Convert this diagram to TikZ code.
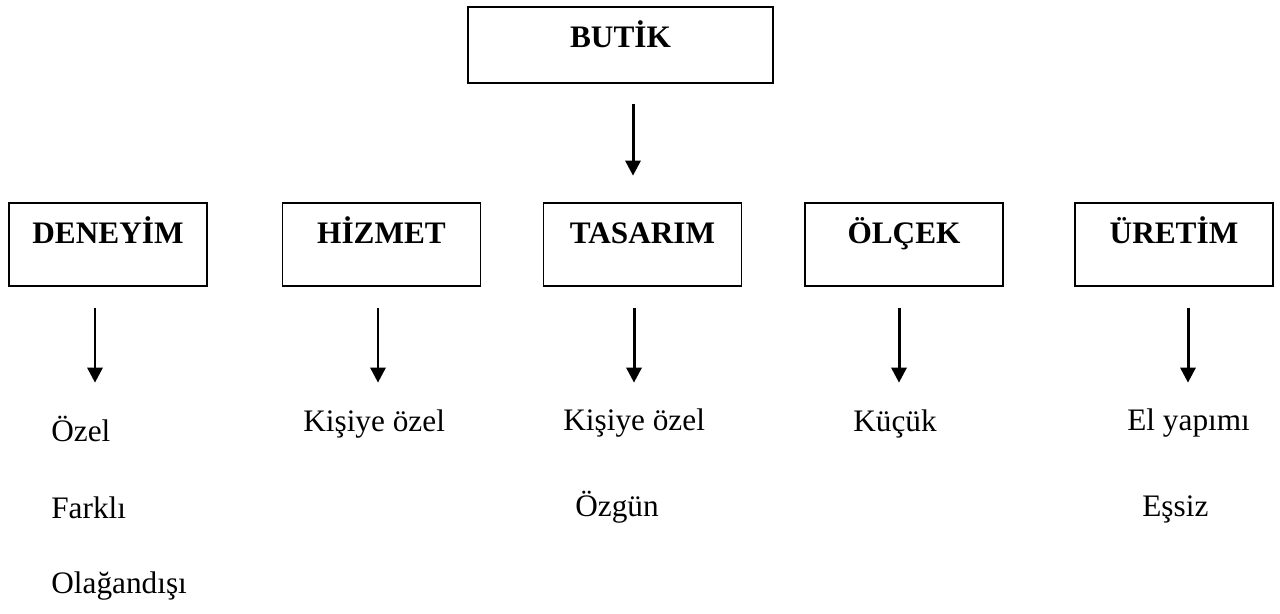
\documentclass[tikz,border=0pt]{standalone}
\usepackage{fontspec}
\setmainfont{Liberation Serif}
\usetikzlibrary{arrows.meta}

\begin{document}
\fontsize{17.8}{21}\selectfont
\begin{tikzpicture}[
        kutu/.style={draw, line width=0.75pt, font=\bfseries, minimum width=3.96cm,
            inner xsep=0pt, inner ysep=0pt, text height=0.8cm, text depth=0.86cm},
        ok/.style={line width=1.7pt, -{Triangle[length=0.3cm,width=0.3cm]}},
        yazi/.style={anchor=base west, inner sep=0pt}
    ]
        \useasboundingbox (0,0) rectangle (25.6,-12.26);
        % ust kutu
        \node[kutu, minimum width=6.1cm, text depth=0.72cm] (butik) at (12.41,-0.9) {BUTİK};
        \draw[ok] ([xshift=0.25cm,yshift=-0.4cm]butik.south) -- ++(0,-1.44);
        % alt kutular
        \node[kutu] (deneyim) at (2.16,-4.89) {DENEYİM};
        \node[kutu] (hizmet) at (7.63,-4.89) {HİZMET};
        \node[kutu] (tasarim) at (12.85,-4.89) {TASARIM};
        \node[kutu] (olcek) at (18.08,-4.89) {ÖLÇEK};
        \node[kutu] (uretim) at (23.48,-4.89) {ÜRETİM};
        \draw[ok] ([xshift=-0.26cm,yshift=-0.42cm]deneyim.south) -- ++(0,-1.5);
        \draw[ok] ([xshift=-0.07cm,yshift=-0.42cm]hizmet.south) -- ++(0,-1.5);
        \draw[ok] ([xshift=-0.17cm,yshift=-0.42cm]tasarim.south) -- ++(0,-1.5);
        \draw[ok] ([xshift=-0.1cm,yshift=-0.42cm]olcek.south) -- ++(0,-1.5);
        \draw[ok] ([xshift=0.28cm,yshift=-0.42cm]uretim.south) -- ++(0,-1.5);
        % ozellikler
        \node[yazi] (ozel) at (1.02,-8.82) {Özel};
        \node[yazi] (farkli) at (1.02,-10.36) {Farklı};
        \node[yazi] (olagandisi) at (1.02,-11.86) {Olağandışı};
        \node[yazi] (kisiyeA) at (6.06,-8.62) {Kişiye özel};
        \node[yazi] (kisiyeB) at (11.26,-8.6) {Kişiye özel};
        \node[yazi] (ozgun) at (11.5,-10.32) {Özgün};
        \node[yazi] (kucuk) at (17.06,-8.62) {Küçük};
        \node[yazi] (elyapimi) at (22.54,-8.6) {El yapımı};
        \node[yazi] (essiz) at (22.84,-10.32) {Eşsiz};
    \end{tikzpicture}
\end{document}
